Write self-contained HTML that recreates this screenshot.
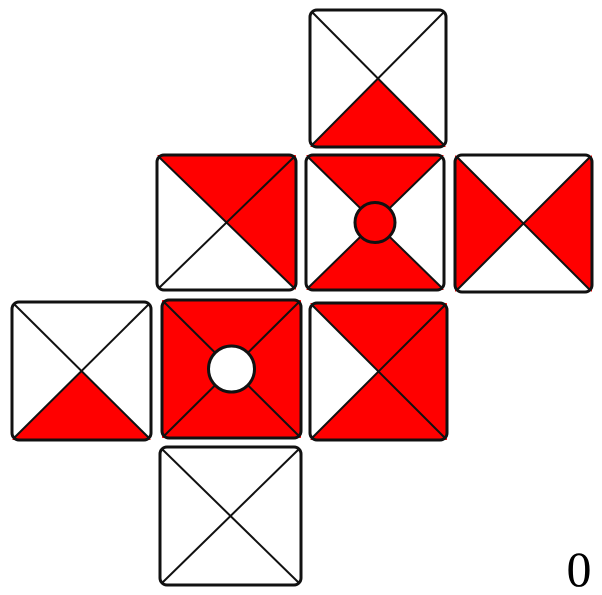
<!DOCTYPE html>
<html><head><meta charset="utf-8"><style>
html,body{margin:0;padding:0;background:#fff;width:602px;height:595px;overflow:hidden}
svg{display:block}
</style></head><body>
<svg id="fig" width="602" height="595" viewBox="0 0 602 595">
<text x="579" y="586" font-family="Liberation Serif, serif" font-size="50" text-anchor="middle">0</text>
</svg>
<script>
const cellNames=['top-cell','left-cell','center-cell','right-cell','far-left-cell','mid-cell','inner-cell','bottom-cell'];
const cellRects=[[310,10,446,147],[157,155,296,290],[306,155,444,290],[455,155,592,292],[12,302,151,440],[162,300,301,438],[310,303,447,440],[160,447,301,585]];
const cellFills=[['b'],['t','r'],['t','b'],['l','r'],['b'],['t','r','b','l'],['t','r','b'],[]];
const cellCircles=[null,null,['red',20],null,null,['white',23],null,null];
const NS='http://www.w3.org/2000/svg';
const svg=document.getElementById('fig');
function mk(tag,attrs){const e=document.createElementNS(NS,tag);for(const k in attrs)e.setAttribute(k,attrs[k]);return e;}
cellRects.forEach((r,i)=>{
  const [x0,y0,x1,y1]=r, cx=(x0+x1)/2, cy=(y0+y1)/2;
  const g=mk('g',{});
  
  
  g.appendChild(mk('rect',{x:x0,y:y0,width:x1-x0,height:y1-y0,rx:7,fill:'#fff'}));
  const tri={t:[[x0,y0],[x1,y0]],r:[[x1,y0],[x1,y1]],b:[[x1,y1],[x0,y1]],l:[[x0,y1],[x0,y0]]};
  cellFills[i].forEach(s=>{
    const [a,b]=tri[s];
    const p=mk('polygon',{points:`${a[0]},${a[1]} ${b[0]},${b[1]} ${cx},${cy}`,fill:'#ff0000'});
    
    
    g.appendChild(p);
  });
  g.appendChild(mk('line',{x1:x0+3,y1:y0+3,x2:x1-3,y2:y1-3,stroke:'#111','stroke-width':2}));
  g.appendChild(mk('line',{x1:x1-3,y1:y0+3,x2:x0+3,y2:y1-3,stroke:'#111','stroke-width':2}));
  if(cellCircles[i]){
    const c=mk('circle',{cx:cx,cy:cy,r:cellCircles[i][1],fill:cellCircles[i][0]==='red'?'#ff0000':'#fff',stroke:'#111','stroke-width':3});
    
    
    g.appendChild(c);
  }
  g.appendChild(mk('rect',{x:x0,y:y0,width:x1-x0,height:y1-y0,rx:7,fill:'none',stroke:'#111','stroke-width':3}));
  svg.insertBefore(g,svg.firstChild);
});
</script>
</body></html>
